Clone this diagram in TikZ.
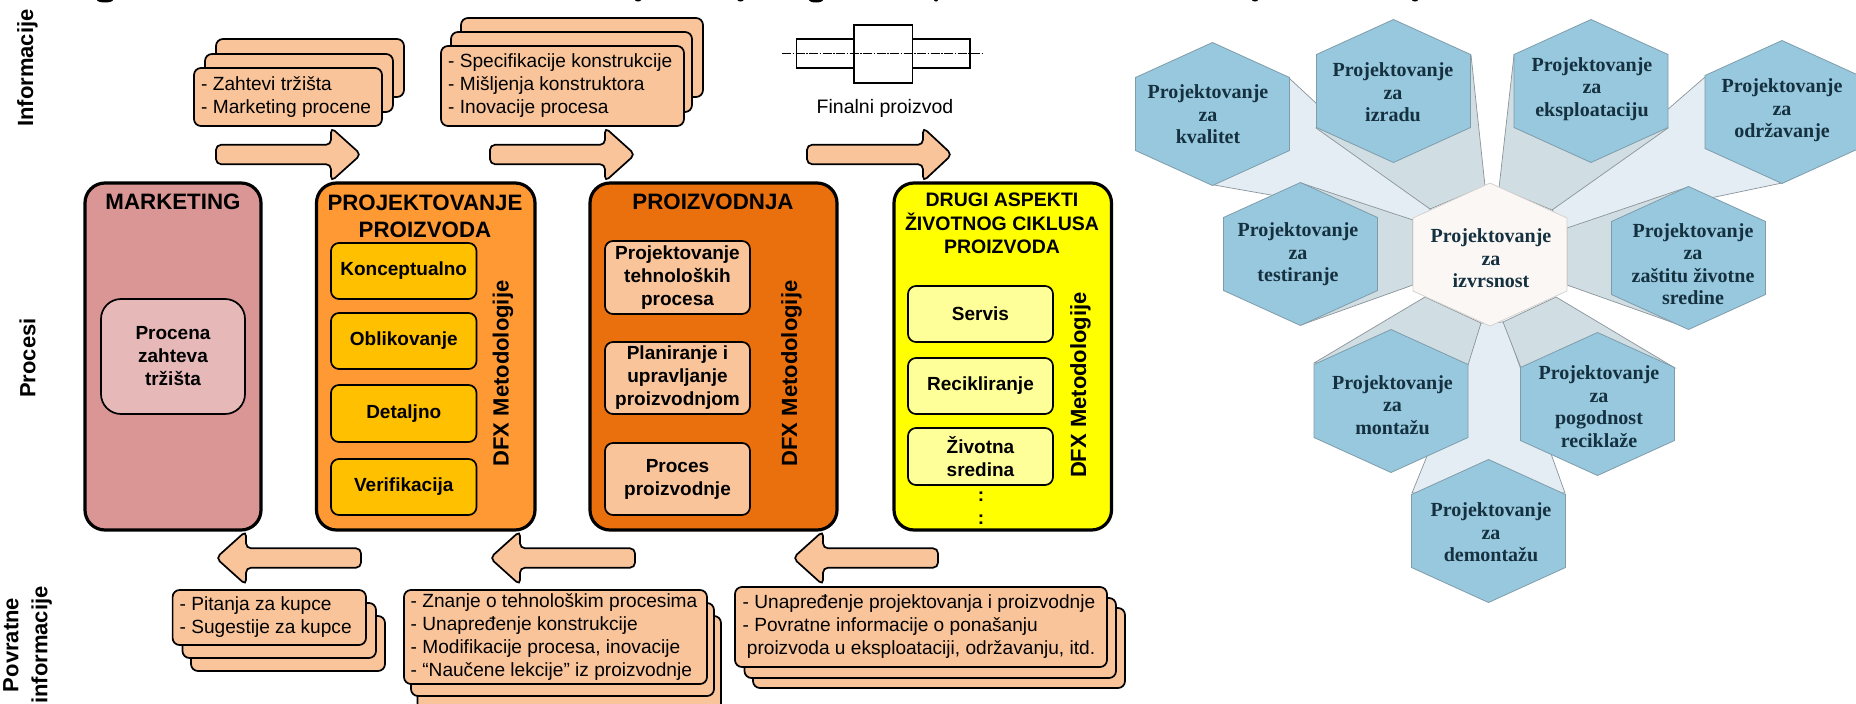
\documentclass[tikz,border=0pt]{standalone}
\usepackage{fontspec}
\setmainfont{Liberation Sans}
\newfontfamily\hexfont{Liberation Serif}
\definecolor{peach}{HTML}{F9C49A}
\definecolor{mkt}{HTML}{D99694}
\definecolor{mktin}{HTML}{E6B9B8}
\definecolor{prj}{HTML}{FF9933}
\definecolor{prjin}{HTML}{FFC000}
\definecolor{prz}{HTML}{E9700D}
\definecolor{ylw}{HTML}{FFFF00}
\definecolor{ylwin}{HTML}{FFFF99}
\definecolor{hexblue}{HTML}{97C8DE}
\definecolor{hexline}{HTML}{7F9CAA}
\definecolor{hextext}{HTML}{15303F}
\definecolor{wlight}{HTML}{E4EDF4}
\definecolor{wdark}{HTML}{D0DDE3}
\definecolor{wline}{HTML}{8A9499}
\definecolor{hexcen}{HTML}{FAF7F4}
\newcommand\boxn[7]{%
  \pgfmathsetmacro\bw{#5-#3}\pgfmathsetmacro\bh{#6-#4}%
  \pgfmathsetmacro\bx{(#5+#3)/2}\pgfmathsetmacro\by{(#6+#4)/2}%
  \node[#1,minimum width=\bw pt,minimum height=\bh pt] (#2) at (\bx,\by) {#7};}
\newcommand\arrowr[4]{% x1, sharp tip, base, centre y
  \draw[blockarrow] (#1,#4-9.7) -- (#3,#4-9.7) -- (#3,#4-27) -- (#2,#4) -- (#3,#4+27) -- (#3,#4+9.7) -- (#1,#4+9.7) -- cycle;}
\newcommand\hexa[6]{% name, cx, cy, text x, text y, text
  \coordinate (#1-t) at (#2,#3-71.5);
  \coordinate (#1-ur) at (#2+77,#3-36.5);
  \coordinate (#1-lr) at (#2+77,#3+36.5);
  \coordinate (#1-b) at (#2,#3+71.5);
  \coordinate (#1-ll) at (#2-77,#3+36.5);
  \coordinate (#1-ul) at (#2-77,#3-36.5);
  \draw[hexshape] (#1-t) -- (#1-ur) -- (#1-lr) -- (#1-b) -- (#1-ll) -- (#1-ul) -- cycle;
  \node[hexlabel] (#1) at (#4,#5) {#6};}
\tikzset{
  x=1pt,y=-1pt,
  panel/.style={draw=black,line width=3.2pt,rounded corners=20pt,inner sep=0pt,outer sep=0pt},
  inbox/.style={draw=black,line width=1.7pt,rounded corners=8pt,inner sep=0pt,outer sep=0pt,align=center,
    font=\fontsize{19}{23}\selectfont\bfseries},
  sheet/.style={draw=black,fill=peach,line width=1.7pt,rounded corners=7pt,inner sep=0pt,outer sep=0pt},
  sheettext/.style={anchor=west,inner sep=0pt,align=left,font=\fontsize{19.1}{23}\selectfont},
  head/.style={align=center,inner sep=0pt,font=\fontsize{22.3}{27}\selectfont\bfseries},
  vlabel/.style={rotate=90,inner sep=0pt,align=center,font=\fontsize{22}{29}\selectfont\bfseries},
  blockarrow/.style={draw=black,fill=peach,line width=1.7pt,rounded corners=5pt},
  hexshape/.style={draw=hexline,fill=hexblue,line width=.8pt},
  hexlabel/.style={align=center,inner sep=0pt,text=hextext,font=\hexfont\fontsize{20}{22.5}\selectfont\bfseries},
  wedgel/.style={draw=wline,fill=wlight,line width=.7pt},
  wedged/.style={draw=wline,fill=wdark,line width=.7pt},
  shaftpart/.style={draw=black,fill=white,line width=1.2pt,inner sep=0pt,outer sep=0pt},
}
\begin{document}
\begin{tikzpicture}
\useasboundingbox (0,0) rectangle (1856,704);
% cropped title descenders
\fill (105,0) ellipse (8 and 2.5);
\fill (638,0) ellipse (3 and 1.5);
\fill (740.5,0) ellipse (3 and 1.5);
\fill (816,0) ellipse (7 and 2.5);
\fill (936,0) ellipse (2 and 1.5);
\fill (1255,0) ellipse (3 and 1.5);
\fill (1415,0) ellipse (3 and 1.5);
% side labels
\node[vlabel] (lInf) at (27.5,68) {Informacije};
\node[vlabel] (lPro) at (27.5,358) {Procesi};
\node[vlabel] (lPov) at (27.5,645) {Povratne\\informacije};
% top stacks
\boxn{sheet}{s1c}{216}{39}{404}{97}{}
\boxn{sheet}{s1b}{205}{54}{393}{112}{}
\boxn{sheet}{s1a}{194}{68}{382}{126}{}
\node[sheettext] (s1t) at (201,97) {- Zahtevi tržišta\\- Marketing procene};
\boxn{sheet}{s2c}{461}{18}{703}{97}{}
\boxn{sheet}{s2b}{451}{32}{692}{112}{}
\boxn{sheet}{s2a}{441}{46}{684}{126}{}
\node[sheettext] (s2t) at (448,86) {- Specifikacije konstrukcije\\- Mišljenja konstruktora\\- Inovacije procesa};
% final product
\boxn{shaftpart}{sl}{796.5}{39}{854}{68}{}
\boxn{shaftpart}{sr}{912.5}{39}{970}{68}{}
\boxn{shaftpart}{sm}{854}{25}{912.5}{83}{}
\coordinate (cl1) at (782,53.7);
\coordinate (cl2) at (984,53.7);
\draw[line width=.8pt,dash pattern=on 9pt off 1.5pt on 1.5pt off 1.5pt] (cl1) -- (cl2);
\node[inner sep=0pt,font=\fontsize{19.5}{23}\selectfont] (fin) at (885,108) {Finalni proizvod};
% top arrows
\arrowr{216}{361}{331}{154.5}
\arrowr{490}{635}{605}{154.5}
\arrowr{807}{952}{923}{154.5}
% main panels
\boxn{panel,fill=mkt}{pM}{85}{183}{261}{530}{}
\boxn{panel,fill=prj}{pP}{316.5}{183}{535}{530}{}
\boxn{panel,fill=prz}{pZ}{590}{183}{837}{530}{}
\boxn{panel,fill=ylw}{pD}{894}{183}{1111.5}{530}{}
\node[head] (hM) at (173,202) {MARKETING};
\node[head] (hP) at (425,216) {PROJEKTOVANJE\\PROIZVODA};
\node[head] (hZ) at (713,202) {PROIZVODNJA};
\node[head,font=\fontsize{19.5}{23.5}\selectfont\bfseries] (hD) at (1002,223.5) {DRUGI ASPEKTI\\ŽIVOTNOG CIKLUSA\\PROIZVODA};
% inner boxes
\boxn{inbox,fill=mktin,rounded corners=20pt}{iM}{101}{299}{245}{414}{Procena\\zahteva\\tržišta}
\boxn{inbox,fill=prjin}{iP1}{331}{243}{476.5}{299}{Konceptualno}
\boxn{inbox,fill=prjin}{iP2}{331}{313}{476.5}{369}{Oblikovanje}
\boxn{inbox,fill=prjin}{iP3}{331}{385}{476.5}{442}{Detaljno}
\boxn{inbox,fill=prjin}{iP4}{331}{459}{476.5}{515}{Verifikacija}
\boxn{inbox,fill=peach}{iZ1}{605}{241}{750}{314}{Projektovanje\\tehnoloških\\procesa}
\boxn{inbox,fill=peach}{iZ2}{605}{342}{750}{414}{Planiranje i\\upravljanje\\proizvodnjom}
\boxn{inbox,fill=peach}{iZ3}{605}{443}{750}{515}{Proces\\proizvodnje}
\boxn{inbox,fill=ylwin}{iD1}{908}{286}{1053}{342}{Servis}
\boxn{inbox,fill=ylwin}{iD2}{908}{358}{1053}{414}{Recikliranje}
\boxn{inbox,fill=ylwin}{iD3}{908}{428}{1053}{485}{Životna\\sredina}
\node[inner sep=0pt,font=\fontsize{19}{23}\selectfont\bfseries] (dd1) at (981,497) {:};
\node[inner sep=0pt,font=\fontsize{19}{23}\selectfont\bfseries] (dd2) at (981,520) {:};
% DFX
\node[vlabel] (dP) at (503,373.5) {DFX Metodologije};
\node[vlabel] (dZ) at (791.5,373.5) {DFX Metodologije};
\node[vlabel] (dD) at (1080.5,385) {DFX Metodologije};
% bottom arrows
\arrowr{361}{216}{246}{558}
\arrowr{635}{490}{520}{558}
\arrowr{938}{793}{823}{558}
% bottom stacks
\boxn{sheet}{b1c}{191}{616}{385}{671}{}
\boxn{sheet}{b1b}{182.5}{603}{376}{658}{}
\boxn{sheet}{b1a}{172.6}{590}{366}{645}{}
\node[sheettext] (b1t) at (179.5,617.5) {- Pitanja za kupce\\- Sugestije za kupce};
\boxn{sheet}{b2c}{417.5}{616}{721}{712}{}
\boxn{sheet}{b2b}{411}{603}{714}{696}{}
\boxn{sheet}{b2a}{404}{590}{707}{684}{}
\node[sheettext] (b2t) at (410.5,637) {- Znanje o tehnološkim procesima\\- Unapređenje konstrukcije\\- Modifikacije procesa, inovacije\\- “Naučene lekcije” iz proizvodnje};
\boxn{sheet}{b3c}{753}{608}{1125}{688}{}
\boxn{sheet}{b3b}{744.5}{598}{1116}{678}{}
\boxn{sheet}{b3a}{735}{587}{1107}{667}{}
\node[sheettext] (b3t) at (742.5,627) {- Unapređenje projektovanja i proizvodnje\\- Povratne informacije o ponašanju\\\hspace*{4.2pt}proizvoda u eksploataciji, održavanju, itd.};
% wedges, light
\draw[wedgel] (1289,78) -- (1431,210) -- (1413,220) -- (1214,185) -- cycle;
\draw[wedgel] (1705,77) -- (1552,210) -- (1567,228) -- (1782,183) -- cycle;
\draw[wedgel] (1412,493) -- (1481,323) -- (1504,322) -- (1565,493) -- cycle;
% wedges, dark
\draw[wedged] (1316,128) -- (1430,209) -- (1485,186) -- (1471,55) -- cycle;
\draw[wedged] (1514,55) -- (1499,188) -- (1552,210) -- (1668,128) -- cycle;
\draw[wedged] (1301,183) -- (1413,220) -- (1413,285) -- (1301,325) -- cycle;
\draw[wedged] (1688,187) -- (1567,228) -- (1567,285) -- (1688,328) -- cycle;
\draw[wedged] (1314,363) -- (1425,297) -- (1481,323) -- (1468,365) -- cycle;
\draw[wedged] (1521,368) -- (1503,322) -- (1556,297) -- (1675,368) -- cycle;
% hexagons
\hexa{hKv}{1212.5}{114}{1208}{114.5}{Projektovanje\\za\\kvalitet}
\hexa{hIz}{1393.5}{91}{1393}{92.5}{Projektovanje\\za\\izradu}
\hexa{hEk}{1591}{91}{1592}{89}{Projektovanje\\za\\eksploataciju}
\hexa{hOd}{1782}{112}{1782}{110.5}{Projektovanje\\za\\održavanje}
\hexa{hTe}{1300.5}{254}{1298}{254.5}{Projektovanje\\za\\testiranje}
\hexa{hZa}{1688.5}{258}{1693}{264}{Projektovanje\\za\\zaštitu životne\\sredine}
\hexa{hMo}{1391}{401}{1392.5}{405}{Projektovanje\\za\\montažu}
\hexa{hRe}{1597.5}{404}{1599}{406.5}{Projektovanje\\za\\pogodnost\\reciklaže}
\hexa{hDe}{1488.5}{531}{1491}{532.5}{Projektovanje\\za\\demontažu}
\tikzset{hexshape/.append style={draw=hexcen!85!black,fill=hexcen}}
\hexa{hCe}{1490}{254.5}{1491}{258.5}{Projektovanje\\za\\izvrsnost}
\end{tikzpicture}
\end{document}
